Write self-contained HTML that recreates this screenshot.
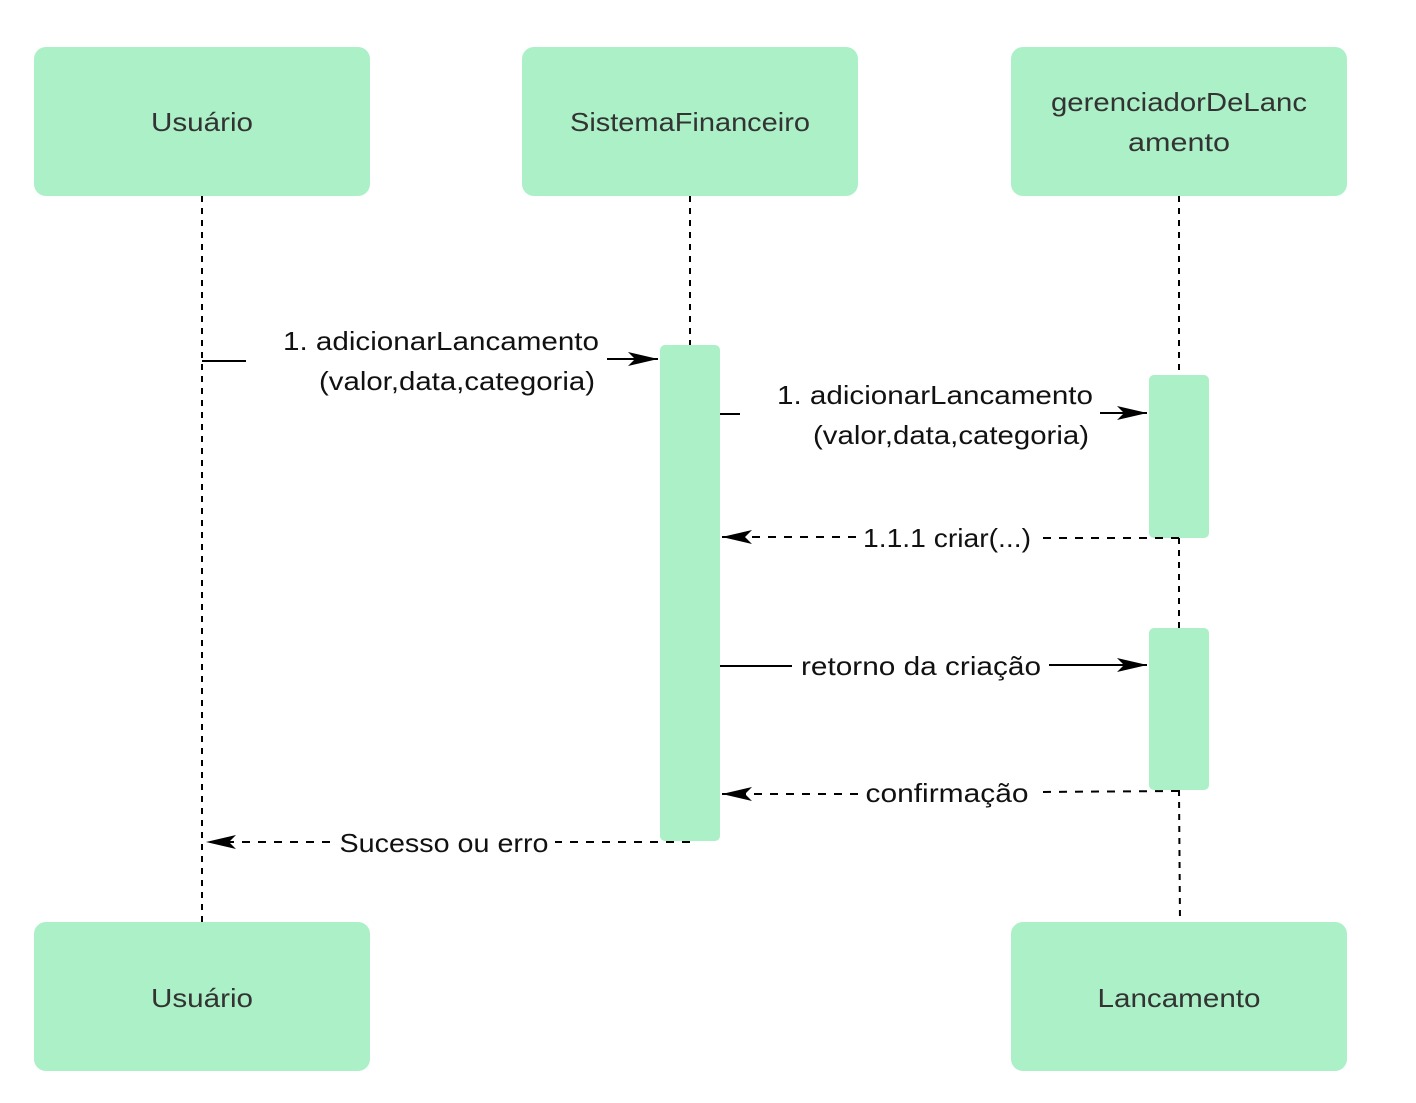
<!DOCTYPE html>
<html><head><meta charset="utf-8"><style>
html,body{margin:0;padding:0;background:#fff;}
svg{display:block;}
text{font-family:"Liberation Sans","DejaVu Sans",sans-serif;font-size:26px;}
.b{fill:#333;text-anchor:middle;}
.m{fill:#111;text-anchor:middle;}
</style></head><body>
<svg width="1416" height="1103" viewBox="0 0 1416 1103" xmlns="http://www.w3.org/2000/svg">
<defs>
<marker id="ah" markerWidth="32" markerHeight="16" refX="30" refY="8" orient="auto" markerUnits="userSpaceOnUse">
<path d="M0,1 L30,8 L0,15 L7,8 Z" fill="#000"/>
</marker>
</defs>
<g fill="#abf0c7">
<rect x="34" y="47" width="336" height="149" rx="12"/>
<rect x="522" y="47" width="336" height="149" rx="12"/>
<rect x="1011" y="47" width="336" height="149" rx="12"/>
<rect x="34" y="922" width="336" height="149" rx="12"/>
<rect x="1011" y="922" width="336" height="149" rx="12"/>
</g>
<g stroke="#000" stroke-width="2" stroke-dasharray="6,6" fill="none">
<line x1="202" y1="196" x2="202" y2="922"/>
<line x1="690" y1="196" x2="690" y2="345"/>
<line x1="1179" y1="196" x2="1179" y2="375"/>
<line x1="1179" y1="538" x2="1179" y2="628"/>
<line x1="1179" y1="790" x2="1180" y2="922"/>
</g>
<g fill="#abf0c7">
<rect x="660" y="345" width="60" height="496" rx="5"/>
<rect x="1149" y="375" width="60" height="163" rx="5"/>
<rect x="1149" y="628" width="60" height="162" rx="5"/>
</g>
<g lengthAdjust="spacingAndGlyphs">
<text class="b" x="202" y="131" textLength="102" lengthAdjust="spacingAndGlyphs">Usuário</text>
<text class="b" x="690" y="131" textLength="240" lengthAdjust="spacingAndGlyphs">SistemaFinanceiro</text>
<text class="b" x="1179" y="111" textLength="256" lengthAdjust="spacingAndGlyphs">gerenciadorDeLanc</text>
<text class="b" x="1179" y="151" textLength="102" lengthAdjust="spacingAndGlyphs">amento</text>
<text class="b" x="202" y="1007" textLength="102" lengthAdjust="spacingAndGlyphs">Usuário</text>
<text class="b" x="1179" y="1007" textLength="163" lengthAdjust="spacingAndGlyphs">Lancamento</text>
</g>
<g stroke="#000" stroke-width="2" fill="none">
<line x1="202" y1="361" x2="246" y2="361"/>
<line x1="607" y1="359" x2="658" y2="359" marker-end="url(#ah)"/>
<line x1="720" y1="414" x2="740" y2="414"/>
<line x1="1100" y1="413" x2="1147" y2="413" marker-end="url(#ah)"/>
<line x1="720" y1="666" x2="792" y2="666"/>
<line x1="1049" y1="665" x2="1147" y2="665" marker-end="url(#ah)"/>
<g stroke-dasharray="8,8">
<line x1="1179" y1="538" x2="1040" y2="538"/>
<line x1="856" y1="537" x2="722" y2="537" marker-end="url(#ah)"/>
<line x1="1179" y1="791" x2="1036" y2="792"/>
<line x1="858" y1="794" x2="722" y2="794" marker-end="url(#ah)"/>
<line x1="690" y1="842" x2="555" y2="842"/>
<line x1="330" y1="842" x2="206" y2="842" marker-end="url(#ah)"/>
</g>
</g>
<text class="m" x="441" y="350" textLength="316" lengthAdjust="spacingAndGlyphs">1. adicionarLancamento</text>
<text class="m" x="457" y="390" textLength="276" lengthAdjust="spacingAndGlyphs">(valor,data,categoria)</text>
<text class="m" x="935" y="404" textLength="316" lengthAdjust="spacingAndGlyphs">1. adicionarLancamento</text>
<text class="m" x="951" y="444" textLength="276" lengthAdjust="spacingAndGlyphs">(valor,data,categoria)</text>
<text class="m" x="947" y="547" textLength="168" lengthAdjust="spacingAndGlyphs">1.1.1 criar(...)</text>
<text class="m" x="921" y="675" textLength="240" lengthAdjust="spacingAndGlyphs">retorno da criação</text>
<text class="m" x="947" y="802" textLength="163" lengthAdjust="spacingAndGlyphs">confirmação</text>
<text class="m" x="444" y="852" textLength="209" lengthAdjust="spacingAndGlyphs">Sucesso ou erro</text>
</svg>
</body></html>
